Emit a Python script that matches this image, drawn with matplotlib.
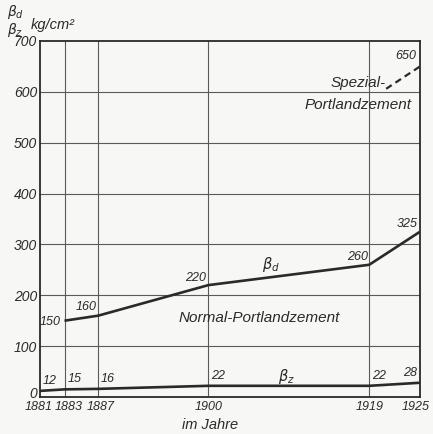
import matplotlib
matplotlib.use("Agg")
import matplotlib.pyplot as plt
import matplotlib.transforms as mtransforms
import numpy as np

years_x = [1881, 1883, 1887, 1900, 1919, 1925]
tick_labels = ["1881", "1883", "1887", "1900", "1919", "1925"]

bd_years = [1883, 1887, 1900, 1919, 1925]
bd_values = [150, 160, 220, 260, 325]

bz_years = [1881, 1883, 1887, 1900, 1919, 1925]
bz_values = [12, 15, 16, 22, 22, 28]

spez_years = [1921, 1925]
spez_values = [606, 650]

y_ticks = [0, 100, 200, 300, 400, 500, 600, 700]

# drawn time axis: the first interval (1881-1883) is stretched in the original
_knots_year = [1881, 1883, 1925]
_knots_pos = [0.0, 24.5, 380.0]

def _fwd(x):
    return np.interp(x, _knots_year, _knots_pos)

def _inv(p):
    return np.interp(p, _knots_pos, _knots_year)

ink = "#2a2a2a"
bg = "#f7f7f5"
narrow = ['Liberation Sans Narrow', 'Liberation Sans', 'DejaVu Sans']
plt.rcParams['font.family'] = narrow
plt.rcParams['mathtext.fontset'] = 'dejavusans'

fig = plt.figure(figsize=(4.33, 4.34), dpi=100, facecolor=bg)
ax = fig.add_axes([40 / 433, 1 - 397 / 434, 380 / 433, 356 / 434])
ax.set_facecolor(bg)

ax.set_xscale("function", functions=(_fwd, _inv))
ax.set_xlim(1881, 1925)
ax.set_ylim(0, 700)

for y in y_ticks[1:-1]:
    ax.axhline(y, color="#5a5a5a", lw=0.8, zorder=1)
for x in years_x[1:-1]:
    ax.axvline(x, color="#5a5a5a", lw=0.8, zorder=1)

ax.plot(bd_years, bd_values, color=ink, lw=1.9, zorder=3, solid_capstyle="butt")
ax.plot(bz_years, bz_values, color=ink, lw=1.9, zorder=3, solid_capstyle="butt")
ax.plot(spez_years, spez_values, color=ink, lw=1.6, ls=(0, (3, 2)), zorder=3)

for s in ax.spines.values():
    s.set_color(ink)
    s.set_linewidth(1.3)

ax.set_xticks(years_x)
ax.set_xticklabels(tick_labels, fontstyle="italic", fontsize=9, color=ink)
ax.set_yticks(y_ticks)
ax.set_yticklabels([str(v) for v in y_ticks], fontstyle="italic", fontsize=10, color=ink)
ax.minorticks_off()
ax.tick_params(axis="x", length=0, pad=3)
ax.tick_params(axis="y", length=0, pad=2)

# small nudges of crowded tick labels, as in the original lettering
def _nudge(lbl, dx, dy):
    lbl.set_transform(lbl.get_transform() +
                      mtransforms.ScaledTranslation(dx / 72, dy / 72, fig.dpi_scale_trans))

xl = ax.get_xticklabels()
_nudge(xl[0], -1, 0)
_nudge(xl[1], 3, 0)
_nudge(xl[2], 2, 0)
_nudge(xl[5], -3, 0)
yl = ax.get_yticklabels()
_nudge(yl[0], 0, 3)

fs = 9
# beta_d labels
bd_offsets = [(-3, -1, "right", "center"), (-1, 2, "right", "bottom"), (-2, 1, "right", "bottom"),
              (-1, 1, "right", "bottom"), (-2, 1, "right", "bottom")]
for xv, yv, (dx, dy, ha, va) in zip(bd_years, bd_values, bd_offsets):
    ax.annotate(str(yv), (xv, yv), xytext=(dx, dy), textcoords="offset points",
                ha=ha, va=va, fontsize=fs, fontstyle="italic", color=ink)

# beta_z labels
for i, (xv, yv) in enumerate(zip(bz_years, bz_values)):
    if i == len(bz_years) - 1:
        ax.annotate(str(yv), (xv, yv), xytext=(-2, 3), textcoords="offset points",
                    ha="right", va="bottom", fontsize=fs, fontstyle="italic", color=ink)
    else:
        ax.annotate(str(yv), (xv, yv), xytext=(2, 3), textcoords="offset points",
                    ha="left", va="bottom", fontsize=fs, fontstyle="italic", color=ink)

ax.annotate(str(spez_values[-1]), (spez_years[-1], spez_values[-1]), xytext=(-3, 3),
            textcoords="offset points", ha="right", va="bottom", fontsize=fs,
            fontstyle="italic", color=ink)

ax.text(1907.4, 260, r"$\beta_d$", fontsize=10.5, color=ink, ha="center", va="center")
ax.text(1909.2, 40, r"$\beta_z$", fontsize=10.5, color=ink, ha="center", va="center")
ax.text(1906, 155, "Normal-Portlandzement", fontsize=11, fontstyle="italic",
        color=ink, ha="center", va="center")
ax.text(1921, 603, "Spezial-", fontsize=11, fontstyle="italic",
        color=ink, ha="right", va="bottom")
ax.text(1924, 575, "Portlandzement", fontsize=11, fontstyle="italic",
        color=ink, ha="right", va="center")

fig.text(7 / 433, 1 - 21 / 434, "$\\beta_d$\n$\\beta_z$", fontsize=10, color=ink,
         ha="left", va="center", linespacing=0.95)
fig.text(31 / 433, 1 - 25 / 434, "kg/cm²", fontsize=10.5, fontstyle="italic", color=ink,
         ha="left", va="center")
fig.text(210 / 433, 1 - 425 / 434, "im Jahre", fontsize=10.5, fontstyle="italic", color=ink,
         ha="center", va="center")

fig.savefig("out.png", dpi=100, facecolor=fig.get_facecolor())
